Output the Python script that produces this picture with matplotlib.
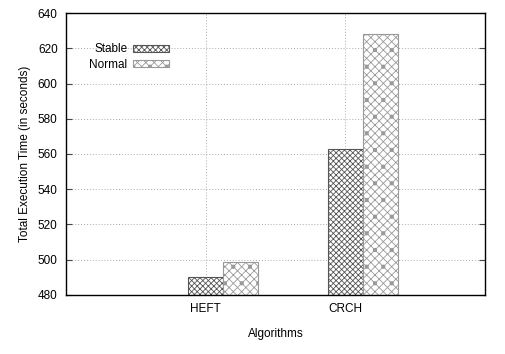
import numpy as np
import matplotlib.pyplot as plt

plt.rcParams['font.family'] = ['Liberation Sans', 'DejaVu Sans']
plt.rcParams['hatch.linewidth'] = 0.6

algorithms = ['HEFT', 'CRCH']
stable = [490.0, 562.8]
normal = [498.6, 628.1]

fig = plt.figure(figsize=(5.06, 3.54), dpi=100)
ax = fig.add_axes([66 / 506, 1 - 295 / 354, (485 - 66) / 506, (295 - 13) / 354])

x = np.arange(len(algorithms))
w = 0.25
ax.bar(x, np.array(stable) - 480, w, bottom=480, color='white', edgecolor='#555555',
       hatch='xxxxxx', linewidth=0.8, label='Stable')
ax.bar(x + w, np.array(normal) - 480, w, bottom=480, color='white', edgecolor='#999999',
       hatch='xxxx.', linewidth=0.8, label='Normal')

ax.set_xlim(-1, 2)
ax.set_ylim(480, 640)
ax.set_xticks(x)
ax.set_xticklabels(algorithms)
ax.set_yticks(np.arange(480, 641, 20))
ax.grid(True, color='#aaaaaa', linestyle=(0, (1, 2)), linewidth=0.7)
ax.set_axisbelow(True)
ax.tick_params(direction='in', length=4, labelsize=8.5, right=True,
               color='#444444', pad=6)
for s in ax.spines.values():
    s.set_linewidth(1.0)

ax.set_ylabel('Total Execution Time (in seconds)', fontsize=8.5, labelpad=5)
ax.set_xlabel('Algorithms', fontsize=8.5, labelpad=9)

ax.legend(loc='upper left', bbox_to_anchor=(0.03, 0.93), frameon=False,
          markerfirst=False, fontsize=8.5, handlelength=3.0, handleheight=0.55,
          labelspacing=0.3, handletextpad=0.5, alignment='right')

fig.savefig('out.png', dpi=100)
